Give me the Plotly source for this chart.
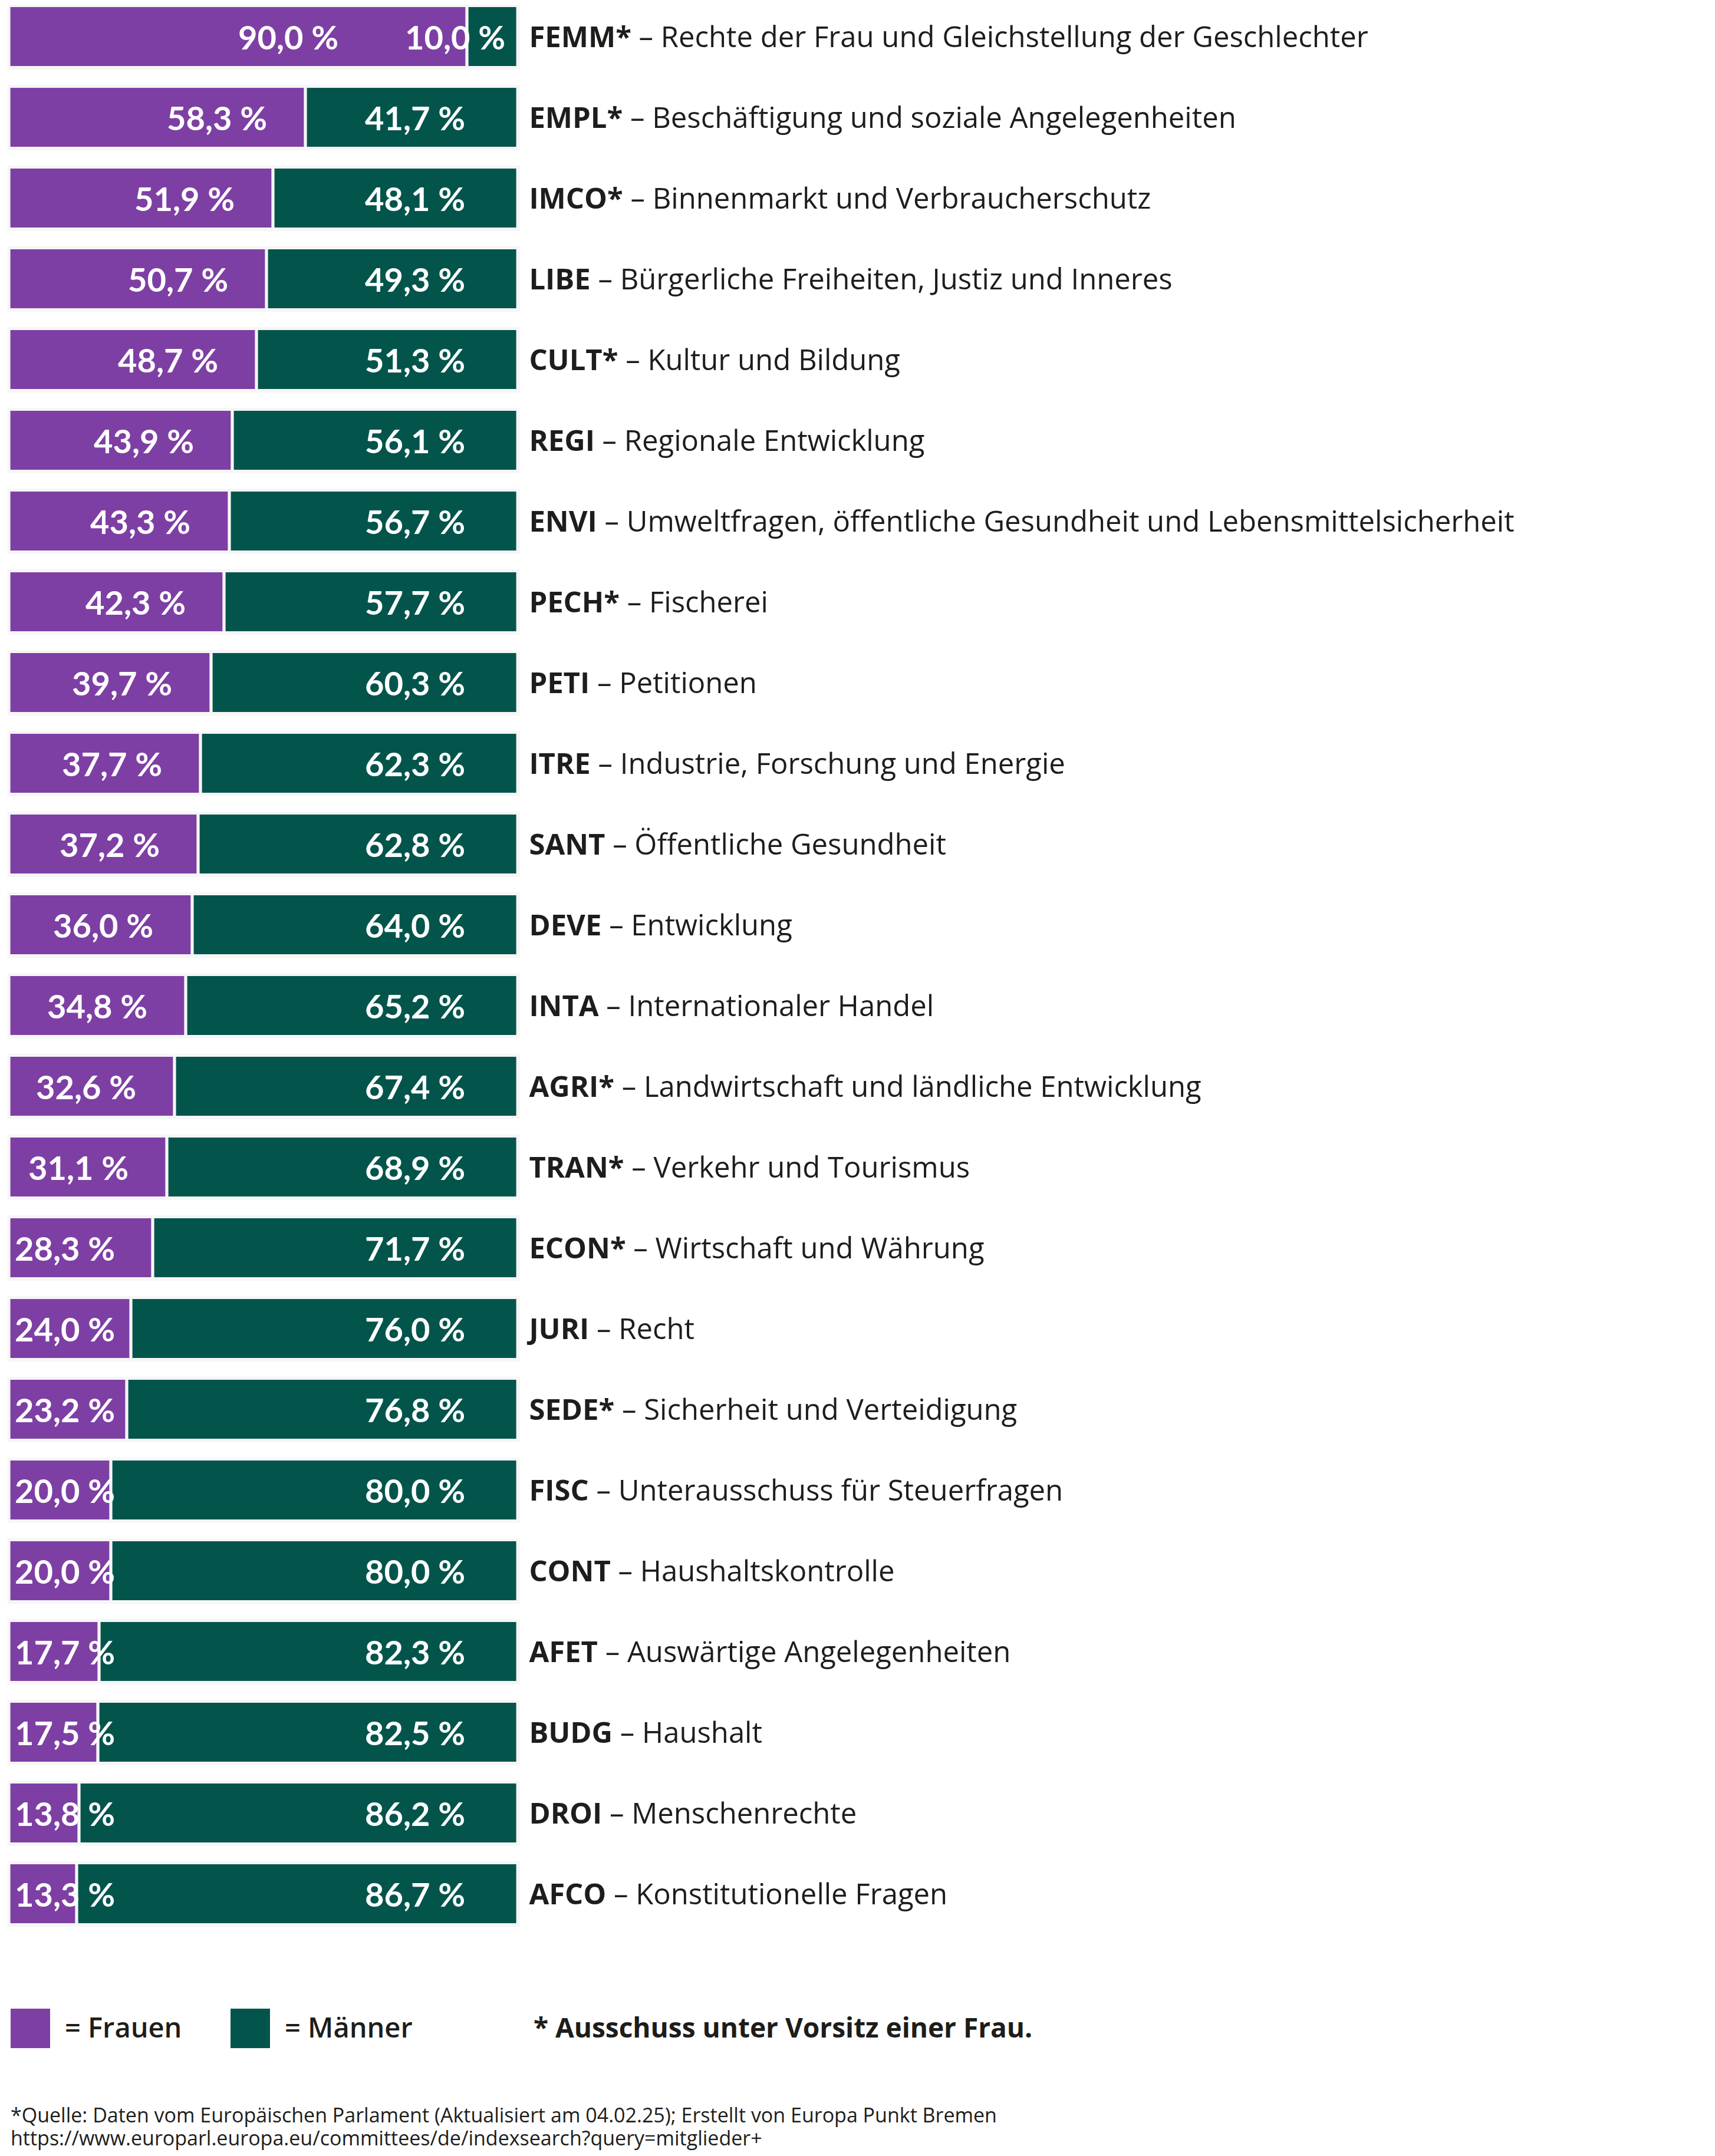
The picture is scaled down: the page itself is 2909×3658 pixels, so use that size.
import plotly.graph_objects as go

# ---------------- data ----------------
codes = ["FEMM*", "EMPL*", "IMCO*", "LIBE", "CULT*", "REGI", "ENVI", "PECH*", "PETI",
         "ITRE", "SANT", "DEVE", "INTA", "AGRI*", "TRAN*", "ECON*", "JURI", "SEDE*",
         "FISC", "CONT", "AFET", "BUDG", "DROI", "AFCO"]
names = ["Rechte der Frau und Gleichstellung der Geschlechter",
         "Beschäftigung und soziale Angelegenheiten",
         "Binnenmarkt und Verbraucherschutz",
         "Bürgerliche Freiheiten, Justiz und Inneres",
         "Kultur und Bildung",
         "Regionale Entwicklung",
         "Umweltfragen, öffentliche Gesundheit und Lebensmittelsicherheit",
         "Fischerei",
         "Petitionen",
         "Industrie, Forschung und Energie",
         "Öffentliche Gesundheit",
         "Entwicklung",
         "Internationaler Handel",
         "Landwirtschaft und ländliche Entwicklung",
         "Verkehr und Tourismus",
         "Wirtschaft und Währung",
         "Recht",
         "Sicherheit und Verteidigung",
         "Unterausschuss für Steuerfragen",
         "Haushaltskontrolle",
         "Auswärtige Angelegenheiten",
         "Haushalt",
         "Menschenrechte",
         "Konstitutionelle Fragen"]
women = [90.0, 58.3, 51.9, 50.7, 48.7, 43.9, 43.3, 42.3, 39.7, 37.7, 37.2, 36.0,
         34.8, 32.6, 31.1, 28.3, 24.0, 23.2, 20.0, 20.0, 17.7, 17.5, 13.8, 13.3]
men = [10.0, 41.7, 48.1, 49.3, 51.3, 56.1, 56.7, 57.7, 60.3, 62.3, 62.8, 64.0,
       65.2, 67.4, 68.9, 71.7, 76.0, 76.8, 80.0, 80.0, 82.3, 82.5, 86.2, 86.7]
legend_labels = ["= Frauen", "= Männer"]
note_text = "* Ausschuss unter Vorsitz einer Frau."
source_lines = ["*Quelle: Daten vom Europäischen Parlament (Aktualisiert am 04.02.25); Erstellt von Europa Punkt Bremen",
                "https://www.europarl.europa.eu/committees/de/indexsearch?query=mitglieder+"]

# ---------------- style ----------------
W, H = 2909, 3658
PURPLE = "#7e3fa4"
GREEN = "#03554c"
BG = "#f6f6f6"
INK = "#1d1d1b"
LABEL_FONT = "Open Sans"
VALUE_FONT = "Lato"

cats = [f"<b>{c}</b> – {n}" for c, n in zip(codes, names)]
totals = [w + m for w, m in zip(women, men)]


def fmt(v):
    return f"{v:.1f}".replace(".", ",") + " %"


fig = go.Figure()
# light background strip behind each bar
fig.add_bar(y=cats, x=[t + 0.7 for t in totals], base=-0.3, orientation="h",
            width=0.81, marker=dict(color=BG, line_width=0), hoverinfo="skip",
            showlegend=False)
fig.add_bar(y=cats, x=women, base=0, orientation="h", width=0.766, name="Frauen",
            marker=dict(color=PURPLE, line=dict(color=BG, width=5)), showlegend=False)
fig.add_bar(y=cats, x=men, base=women, orientation="h", width=0.766, name="Männer",
            marker=dict(color=GREEN, line=dict(color=BG, width=5)), showlegend=False)

annotations = []
vfont = dict(family=VALUE_FONT, size=56, color="white", weight=700)
for i, (cat, w, m) in enumerate(zip(cats, women, men)):
    if i == 0:
        wx, wanchor = w - 25.1, "right"
        mx = w - 12.4
    elif w < 29:
        wx, wanchor = 0.9, "left"
        mx = 69.7
    else:
        wx, wanchor = w - 7.4, "right"
        mx = 69.7
    annotations.append(dict(x=wx, y=cat, xref="x", yref="y", text=fmt(w),
                            xanchor=wanchor, yanchor="middle", showarrow=False, font=vfont))
    annotations.append(dict(x=mx, y=cat, xref="x", yref="y", text=fmt(m),
                            xanchor="left", yanchor="middle", showarrow=False, font=vfont))

# legend
shapes = []
legend_items = [(PURPLE, 10, 77, 100, legend_labels[0]), (GREEN, 383, 450, 473, legend_labels[1])]
LEG_Y0, LEG_Y1 = 3400, 3467
for col, x0, x1, tx, lab in legend_items:
    shapes.append(dict(type="rect", xref="paper", yref="paper", x0=x0 / W, x1=x1 / W,
                       y0=1 - LEG_Y1 / H, y1=1 - LEG_Y0 / H, fillcolor=col, line_width=0))
    annotations.append(dict(x=tx / W, y=1 - 3431 / H, xref="paper", yref="paper", text=lab,
                            xanchor="left", yanchor="middle", showarrow=False,
                            font=dict(family=LABEL_FONT, size=47, color=INK, weight=600)))
annotations.append(dict(x=895 / W, y=1 - 3431 / H, xref="paper", yref="paper", text=note_text,
                        xanchor="left", yanchor="middle", showarrow=False,
                        font=dict(family=LABEL_FONT, size=46, color=INK, weight=700)))
for k, line in enumerate(source_lines):
    annotations.append(dict(x=8 / W, y=1 - (3580 + 39 * k) / H, xref="paper", yref="paper",
                            text=line, xanchor="left", yanchor="middle", showarrow=False,
                            font=dict(family=LABEL_FONT, size=34, color=INK)))

fig.update_layout(
    width=W, height=H, barmode="overlay", bargap=0,
    margin=dict(l=0, r=0, t=0, b=0),
    paper_bgcolor="white", plot_bgcolor="white",
    annotations=annotations, shapes=shapes, showlegend=False,
    xaxis=dict(range=[-0.8, 100.8], domain=[0.6 / W, 877.4 / W], visible=False, fixedrange=True),
    yaxis=dict(type="category", range=[23.6, -0.40], domain=[1 - 3288 / H, 1],
               side="right", showgrid=False, zeroline=False, showline=False, ticks="",
               ticklabelstandoff=11,
               tickfont=dict(family=LABEL_FONT, size=49, color=INK, weight=500)),
)

fig.write_html("out.html")
